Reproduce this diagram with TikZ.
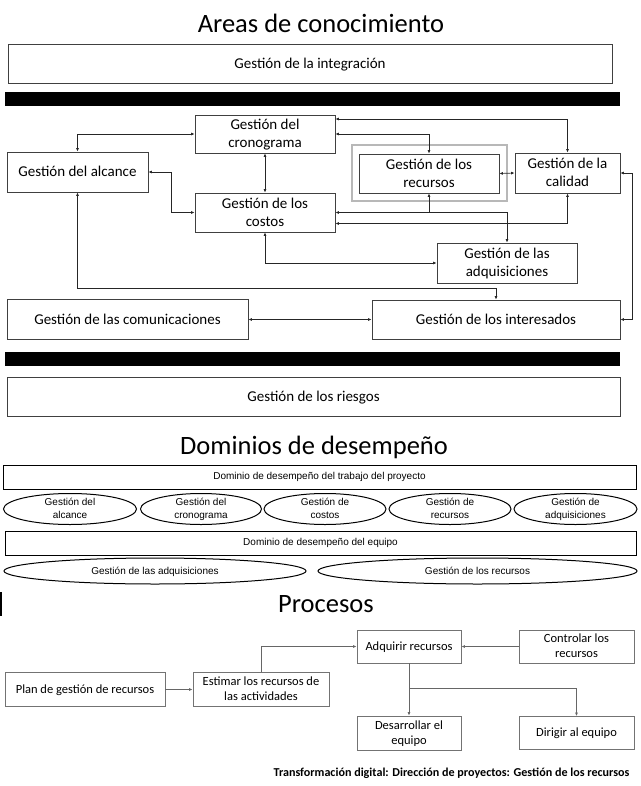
\documentclass[tikz,border=0pt]{standalone}
\usepackage{fontspec}
\setmainfont{Carlito}
\newfontfamily\arialf{Liberation Sans}
\usetikzlibrary{arrows.meta,shapes.geometric}

\begin{document}
\begin{tikzpicture}[x=1pt,y=-1pt,>={Latex[length=3.5pt,width=3pt]}]
\tikzset{caja/.style={draw=black!75, line width=0.8pt, align=center, inner sep=0pt, font=\fontsize{15}{18}\selectfont, text depth=1pt},
ovalo/.style={draw, ellipse, line width=1pt, inner sep=0pt},
textoovalo/.style={align=center, inner sep=0pt, font=\arialf\fontsize{10}{13}\selectfont, text depth=1pt},
dominio/.style={draw, line width=1pt, inner sep=0pt, font=\arialf\fontsize{10}{12}\selectfont},
proceso/.style={draw=black!55, line width=0.8pt, align=center, inner sep=0pt, font=\fontsize{12.5}{15}\selectfont, text depth=1pt},
titulo/.style={anchor=base, font=\fontsize{26.5}{30}\selectfont},
enlace/.style={draw=black!85, line width=0.7pt},
enlacegris/.style={draw=black!60, line width=0.8pt}}
\useasboundingbox (0,0) rectangle (640,786);
% Areas de conocimiento
\node[titulo] (areas) at (321,33) {Areas de conocimiento};
\node[caja, minimum width=604, minimum height=39] (integ) at (310,63.5) {Gestión de la integración};
\fill (5,92) rectangle (620,106);
\node[caja, minimum width=140, minimum height=38] (crono) at (265,134) {Gestión del\\cronograma};
\node[caja, minimum width=141, minimum height=40] (alcance) at (77.5,172) {Gestión del alcance};
\node[draw=black!28, line width=2.5pt, minimum width=155, minimum height=56] (marco) at (429.5,173) {};
\node[caja, minimum width=140, minimum height=39] (recursos) at (429,173.5) {Gestión de los\\recursos};
\node[caja, minimum width=105, minimum height=40] (calidad) at (567.5,173) {Gestión de la\\calidad};
\node[caja, minimum width=140, minimum height=39] (costos) at (265,212.5) {Gestión de los\\costos};
\node[caja, minimum width=140, minimum height=40] (adquis) at (507,263) {Gestión de las\\adquisiciones};
\node[caja, minimum width=241, minimum height=40] (comun) at (127.5,319.5) {Gestión de las comunicaciones};
\node[caja, minimum width=248, minimum height=39] (interes) at (496,319.5) {Gestión de los interesados};
\fill (5,352) rectangle (620,366);
\node[caja, minimum width=613, minimum height=39] (riesgos) at (313.5,396.5) {Gestión de los riesgos};
\draw[enlace, <->] (alcance.north) |- (crono.west);
\draw[enlace, <->] (alcance.east) -- +(23,0) |- (costos.west);
\draw[enlace, <->] (crono) -- (costos);
\draw[enlace, <->] (calidad.north) |- ([yshift=15pt]crono.east);
\draw[enlace, <->] (recursos.north) |- (crono.east);
\draw[enlace, <->] (recursos.east) -- (calidad.west);
\draw[enlace, <->] (recursos.south) |- (costos.east);
\draw[enlace, ->] (recursos.south |- costos.east) -| (adquis.north);
\draw[enlace, <->] (calidad.south) |- ([yshift=-11pt]costos.east);
\draw[enlace, <->] (costos.south) |- (adquis.west);
\draw[enlace, <->] (alcance.south) -- (alcance.south |- 0,288) -| (interes.north);
\draw[enlace, <->] (comun) -- (interes);
\draw[enlace, <->] (interes.east) -- +(12,0) |- (calidad.east);
% Dominios de desempeno
\node[titulo] (dominios) at (314,454) {Dominios de desempeño};
\node[dominio, minimum width=633, minimum height=24] (trabajo) at (319.5,477) {Dominio de desempeño del trabajo del proyecto};
\node[ovalo, minimum width=133, minimum height=31] (oalcance) at (70,509) {};
\node[ovalo, minimum width=121, minimum height=31] (ocrono) at (201,509) {};
\node[ovalo, minimum width=122, minimum height=31] (ocostos) at (325,509) {};
\node[ovalo, minimum width=122, minimum height=31] (orecursos) at (450,509) {};
\node[ovalo, minimum width=123, minimum height=31] (oadquis) at (575.5,509) {};
\node[textoovalo] at (oalcance) {Gestión del\\alcance};
\node[textoovalo] at (ocrono) {Gestión del\\cronograma};
\node[textoovalo] at (ocostos) {Gestión de\\costos};
\node[textoovalo] at (orecursos) {Gestión de\\recursos};
\node[textoovalo] at (oadquis) {Gestión de\\adquisiciones};
\node[dominio, minimum width=631, minimum height=24] (equipo) at (320.5,543) {Dominio de desempeño del equipo};
\node[ovalo, minimum width=302, minimum height=26] (eadquis) at (155,571) {};
\node[ovalo, minimum width=319, minimum height=26] (erecursos) at (477.5,571) {};
\node[textoovalo] at (eadquis) {Gestión de las adquisiciones};
\node[textoovalo] at (erecursos) {Gestión de los recursos};
\draw[line width=1.3pt] (1,592) -- (1,616);
% Procesos
\node[titulo] (procesos) at (326,612) {Procesos};
\node[proceso, minimum width=104, minimum height=33] (adquirir) at (409,646.5) {Adquirir recursos};
\node[proceso, minimum width=115, minimum height=33] (controlar) at (576.5,646.5) {Controlar los\\recursos};
\node[proceso, minimum width=160, minimum height=34] (plan) at (85,689.5) {Plan de gestión de recursos};
\node[proceso, minimum width=136, minimum height=34] (estimar) at (261,689.5) {Estimar los recursos de\\las actividades};
\node[proceso, minimum width=104, minimum height=34] (desarrollar) at (409,733) {Desarrollar el\\equipo};
\node[proceso, minimum width=115, minimum height=33] (dirigir) at (576.5,733) {Dirigir al equipo};
\draw[enlacegris, ->] (plan) -- (estimar);
\draw[enlacegris, ->] (estimar.north) |- (adquirir.west);
\draw[enlacegris, ->] (controlar) -- (adquirir);
\draw[enlacegris, ->] (adquirir) -- (desarrollar);
\draw[enlacegris, ->] (adquirir.south |- 0,688) -| (dirigir.north);
\node[anchor=base east, font=\bfseries\fontsize{12.1}{14}\selectfont] (pie) at (633,776) {Transformación digital: Dirección de proyectos: Gestión de los recursos};
\end{tikzpicture}
\end{document}
